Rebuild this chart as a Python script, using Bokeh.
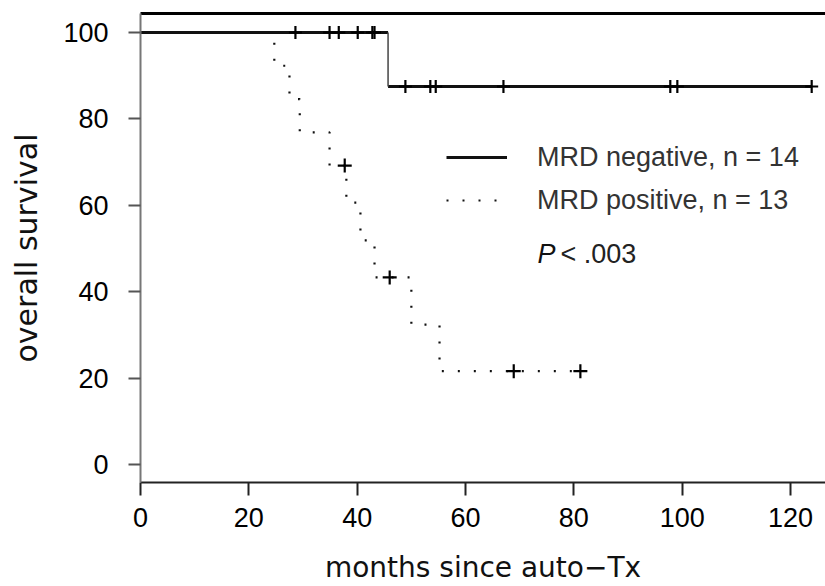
import numpy as np
from bokeh.plotting import figure
from bokeh.models import Range1d, LinearAxis, Legend, LegendItem, Label, FixedTicker
from bokeh.embed import file_html
from bokeh.resources import INLINE

# ---- data ----
# MRD negative, n = 14  (Kaplan-Meier steps: start times and survival levels, %)
neg_step_times = [0.0, 45.7]
neg_step_surv = [100.0, 87.5]
neg_end_time = 123.9
neg_censor_times = [28.6, 34.9, 36.6, 40.1, 42.8, 43.2, 48.9, 53.5, 54.5, 67.0, 97.8, 99.1, 123.9]

# MRD positive, n = 13
pos_step_times = [0.0, 24.7, 27.5, 29.4, 34.9, 38.0, 40.6, 43.2, 50.0, 55.2]
pos_step_surv = [100.0, 92.3, 84.6, 76.9, 69.2, 60.6, 51.9, 43.3, 32.4, 21.6]
pos_end_time = 81.2
pos_censor_times = [37.7, 46.0, 68.9, 81.2]

x_ticks = [0, 20, 40, 60, 80, 100, 120]
y_ticks = [0, 20, 40, 60, 80, 100]

neg_label = "MRD negative, n = 14"
pos_label = "MRD positive, n = 13"
x_title = "months since auto\u2212Tx"
y_title = "overall survival"

FONT = "Liberation Sans"
TITLE_FONT = "DejaVu Sans"


def step_path(times, surv, end):
    xs, ys = [], []
    t_all = list(times) + [end]
    for i, s in enumerate(surv):
        xs += [t_all[i], t_all[i + 1]]
        ys += [s, s]
    return xs, ys


def step_segments(times, surv, end):
    t_all = list(times) + [end]
    hxs = [[t_all[i], t_all[i + 1]] for i in range(len(surv))]
    hys = [[s, s] for s in surv]
    vx = list(times[1:])
    vy0 = list(surv[:-1])
    vy1 = list(surv[1:])
    return hxs, hys, vx, vy0, vy1


def surv_at(t, times, surv):
    idx = np.searchsorted(np.array(times), t, side="right") - 1
    return [surv[i] for i in idx]


p = figure(width=825, height=586, output_backend="svg", toolbar_location=None,
           x_range=Range1d(0, 126.45), y_range=Range1d(-4.17, 104.4),
           min_border_left=140, min_border_right=0, min_border_top=13, min_border_bottom=104)
p.outline_line_color = None
p.xgrid.visible = False
p.ygrid.visible = False
p.background_fill_color = "white"
p.border_fill_color = "white"

ax = p.below[0]
ay = p.left[0]

# top frame line
top_axis = LinearAxis(ticker=FixedTicker(ticks=[]), axis_line_width=3, axis_line_color="black",
                      major_tick_line_color=None, minor_tick_line_color=None,
                      major_label_text_font_size="0px", major_tick_out=0, major_label_standoff=0)
p.add_layout(top_axis, "above")

# axes
ax.ticker = FixedTicker(ticks=x_ticks)
ay.ticker = FixedTicker(ticks=y_ticks)

ax.axis_line_color = "#222222"
ax.axis_line_width = 2
ax.major_tick_line_color = "#222222"
ax.major_tick_line_width = 2
ax.major_tick_out = 13
ax.major_tick_in = 0
ax.minor_tick_line_color = None
ax.major_label_text_font = FONT
ax.major_label_text_font_size = "27px"
ax.major_label_text_color = "black"
ax.major_label_standoff = 12
ax.axis_label = x_title
ax.axis_label_text_font = TITLE_FONT
ax.axis_label_text_font_size = "28px"
ax.axis_label_text_font_style = "normal"
ax.axis_label_text_color = "#111111"
ax.axis_label_standoff = 21

ay.axis_line_color = "#777777"
ay.axis_line_width = 2
ay.major_tick_line_color = "#555555"
ay.major_tick_line_width = 2
ay.major_tick_out = 12
ay.major_tick_in = 0
ay.minor_tick_line_color = None
ay.major_label_text_font = FONT
ay.major_label_text_font_size = "27px"
ay.major_label_text_color = "black"
ay.major_label_standoff = 20
ay.axis_label = y_title
ay.axis_label_text_font = TITLE_FONT
ay.axis_label_text_font_size = "30px"
ay.axis_label_text_font_style = "normal"
ay.axis_label_text_color = "#111111"
ay.axis_label_standoff = 16

# MRD positive: dotted step curve
pxs, pys = step_path(pos_step_times, pos_step_surv, pos_end_time)
pos_r = p.line(pxs, pys, line_color="#111111", line_width=2.2, line_dash="2 14")
p.scatter(pos_censor_times, surv_at(pos_censor_times, pos_step_times, pos_step_surv),
          marker="cross", size=14, line_color="black", line_width=2.2)

# MRD negative: solid step curve
hxs, hys, vx, vy0, vy1 = step_segments(neg_step_times, neg_step_surv, neg_end_time)
neg_r = p.multi_line(hxs, hys, line_color="#111111", line_width=3)
p.segment(x0=vx, x1=vx, y0=vy0, y1=vy1, line_color="#444444", line_width=1.5)
p.scatter(neg_censor_times, surv_at(neg_censor_times, neg_step_times, neg_step_surv),
          marker="cross", size=13, line_color="black", line_width=2.2)

legend = Legend(items=[LegendItem(label=neg_label, renderers=[neg_r]),
                       LegendItem(label=pos_label, renderers=[pos_r])],
                location=(306, 262), glyph_width=61, glyph_height=40, label_height=40,
                label_standoff=30, spacing=3, padding=0, margin=0,
                border_line_color=None, background_fill_alpha=0,
                label_text_font=FONT, label_text_font_size="27px", label_text_color="#333333")
p.add_layout(legend)

p.add_layout(Label(x=397, y=229, x_units="screen", y_units="screen", text="P",
                   text_font=FONT, text_font_style="italic", text_font_size="27px",
                   text_baseline="middle", text_color="#111111"))
p.add_layout(Label(x=420, y=229, x_units="screen", y_units="screen", text="< .003",
                   text_font=FONT, text_font_size="27px",
                   text_baseline="middle", text_color="#222222"))

open("out.html", "w").write(file_html(p, INLINE))
